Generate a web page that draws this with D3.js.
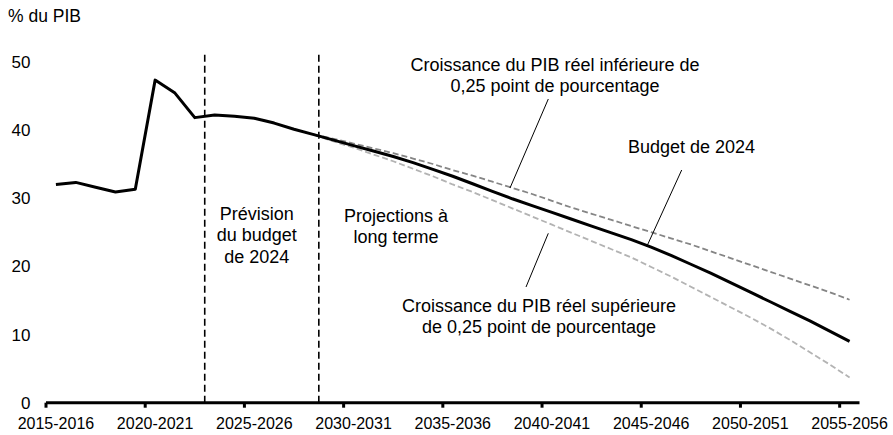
<!DOCTYPE html>
<html>
<head>
<meta charset="utf-8">
<script src="https://cdn.jsdelivr.net/npm/d3@7"></script>
<style>
  html, body { margin: 0; padding: 0; background: #fff; }
  svg { display: block; }
  text { font-family: "Liberation Sans", Arial, sans-serif; fill: #000; }
</style>
</head>
<body>
<svg id="chart" width="893" height="435"></svg>
<script>
// Fiscal years shown on the category axis
const years = d3.range(2015, 2056).map(y => `${y}-${y + 1}`);
const tickLabels = ["2015-2016", "2020-2021", "2025-2026", "2030-2031", "2035-2036",
                    "2040-2041", "2045-2046", "2050-2051", "2055-2056"];
const yTicks = [0, 10, 20, 30, 40, 50];

// Debt ratio, % of GDP — budget 2024 (history, forecast, long-term projection)
const budget2024 = [32.0, 32.3, 31.6, 30.9, 31.3, 47.3, 45.4, 41.8, 42.2, 42.0,
                    41.7, 41.0, 40.1, 39.3, 38.5, 37.7, 36.9, 36.1, 35.2, 34.2,
                    33.2, 32.1, 31.0, 29.9, 28.9, 27.9, 26.9, 25.9, 24.9, 23.9,
                    22.8, 21.6, 20.3, 19.0, 17.6, 16.2, 14.8, 13.4, 12.0, 10.5, 9.0];
// Scenarios start from 2028-2029
const scenarioStart = "2028-2029";
const lowerGrowth = [39.3, 38.7, 38.0, 37.3, 36.6, 35.8, 35.0, 34.1, 33.3, 32.4,
                     31.5, 30.6, 29.6, 28.6, 27.7, 26.8, 25.9, 25.0, 24.1, 23.2,
                     22.2, 21.2, 20.2, 19.2, 18.2, 17.2, 16.2, 15.1];
const higherGrowth = [39.3, 38.3, 37.4, 36.4, 35.4, 34.3, 33.2, 32.0, 30.9, 29.7,
                      28.5, 27.3, 26.1, 24.9, 23.7, 22.5, 21.3, 19.9, 18.5, 17.0,
                      15.5, 14.0, 12.5, 10.9, 9.2, 7.4, 5.6, 3.7];

// Period separators, as positions on the category index
const separators = [7.5, 13.25];
const separatorTop = 51.5;

const svg = d3.select("#chart");

const x = d3.scaleLinear().domain([-0.5, years.length - 0.5]).range([46, 859.5]);
const y = d3.scaleLinear().domain([0, 50]).range([402.7, 61.7]);
const idx = c => years.indexOf(c);

const line = d3.line().x(d => x(d.i)).y(d => y(d.v));
const s0 = idx(scenarioStart);

// Period separators
svg.selectAll("line.sep").data(separators).join("line")
  .attr("class", "sep")
  .attr("x1", d => x(d)).attr("x2", d => x(d))
  .attr("y1", y(0)).attr("y2", y(separatorTop))
  .attr("stroke", "#000").attr("stroke-width", 1.6)
  .attr("stroke-dasharray", "7,4");

// Scenario lines
svg.append("path")
  .datum(higherGrowth.map((v, k) => ({ i: s0 + k, v })))
  .attr("d", line).attr("fill", "none")
  .attr("stroke", "#b3b3b3").attr("stroke-width", 1.8)
  .attr("stroke-dasharray", "6,3");
svg.append("path")
  .datum(lowerGrowth.map((v, k) => ({ i: s0 + k, v })))
  .attr("d", line).attr("fill", "none")
  .attr("stroke", "#858585").attr("stroke-width", 1.8)
  .attr("stroke-dasharray", "6,3");

// Budget 2024 line
svg.append("path")
  .datum(budget2024.map((v, i) => ({ i, v })))
  .attr("d", line).attr("fill", "none")
  .attr("stroke", "#000").attr("stroke-width", 3)
  .attr("stroke-linejoin", "round");

// Category axis
const xAxis = svg.append("g");
xAxis.append("line")
  .attr("x1", x(-0.5)).attr("x2", x(years.length - 0.5))
  .attr("y1", y(0)).attr("y2", y(0))
  .attr("stroke", "#000").attr("stroke-width", 3);
xAxis.selectAll("line.tick").data(tickLabels).join("line")
  .attr("class", "tick")
  .attr("x1", d => x(idx(d) - 0.5)).attr("x2", d => x(idx(d) - 0.5))
  .attr("y1", y(0)).attr("y2", y(0) + 5)
  .attr("stroke", "#000").attr("stroke-width", 3);
xAxis.selectAll("text").data(tickLabels).join("text")
  .attr("x", d => x(idx(d))).attr("y", 429)
  .attr("text-anchor", "middle").attr("font-size", 16)
  .text(d => d);

// Value axis labels
svg.selectAll("text.ytick").data(yTicks).join("text")
  .attr("class", "ytick")
  .attr("x", 30.5).attr("y", d => y(d) + 6)
  .attr("text-anchor", "end").attr("font-size", 17)
  .text(d => d);

svg.append("text").attr("x", 8).attr("y", 22)
  .attr("font-size", 17.5).text("% du PIB");

// Annotations
function label(lines, cx, cy, size) {
  const t = svg.append("text").attr("text-anchor", "middle").attr("font-size", size);
  lines.forEach((s, k) => t.append("tspan").attr("x", cx).attr("y", cy + k * 21.5).text(s));
}
label(["Prévision", "du budget", "de 2024"], 256.7, 219.5, 18);
label(["Projections à", "long terme"], 396, 221.5, 18);
label(["Croissance du PIB réel inférieure de", "0,25 point de pourcentage"], 555, 70.5, 18);
label(["Budget de 2024"], 691.5, 153, 18);
label(["Croissance du PIB réel supérieure", "de 0,25 point de pourcentage"], 539, 311.5, 18);

// Leader lines
const leaders = [
  [548.3, 99, 510, 188],
  [681.7, 170, 646.7, 246.7],
  [548.3, 233.3, 526, 287]
];
svg.selectAll("line.leader").data(leaders).join("line")
  .attr("class", "leader")
  .attr("x1", d => d[0]).attr("y1", d => d[1])
  .attr("x2", d => d[2]).attr("y2", d => d[3])
  .attr("stroke", "#000").attr("stroke-width", 1);
</script>
</body>
</html>
